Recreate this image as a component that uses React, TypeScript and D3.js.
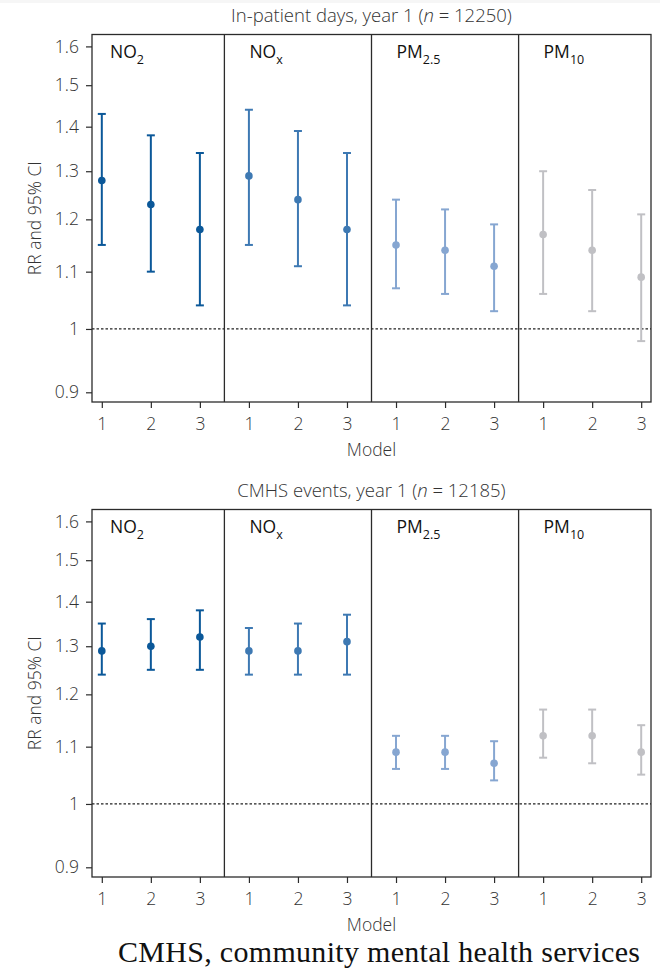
import { useEffect, useRef } from 'react'
import * as d3 from 'd3'

// pollutants and model numbers along the x axis
const pollutants = ['NO', 'NO', 'PM', 'PM']
const pollutantSubs = ['2', 'x', '2.5', '10']
const models = [1, 2, 3]
const colors = ['#0b5899', '#3e79b3', '#86a6d1', '#c0c0c4']

const yTicks = [0.9, 1, 1.1, 1.2, 1.3, 1.4, 1.5, 1.6]

// in-patient days, year 1 (RR, lower, upper), 3 models per pollutant
const inpatientRR = [1.28, 1.23, 1.18, 1.29, 1.24, 1.18, 1.15, 1.14, 1.11, 1.17, 1.14, 1.09]
const inpatientLo = [1.15, 1.10, 1.04, 1.15, 1.11, 1.04, 1.07, 1.06, 1.03, 1.06, 1.03, 0.98]
const inpatientHi = [1.43, 1.38, 1.34, 1.44, 1.39, 1.34, 1.24, 1.22, 1.19, 1.30, 1.26, 1.21]

// CMHS events, year 1
const cmhsRR = [1.29, 1.30, 1.32, 1.29, 1.29, 1.31, 1.09, 1.09, 1.07, 1.12, 1.12, 1.09]
const cmhsLo = [1.24, 1.25, 1.25, 1.24, 1.24, 1.24, 1.06, 1.06, 1.04, 1.08, 1.07, 1.05]
const cmhsHi = [1.35, 1.36, 1.38, 1.34, 1.35, 1.37, 1.12, 1.12, 1.11, 1.17, 1.17, 1.14]

const panels = [
  { title: 'In-patient days, year 1 (', n: '12250', rr: inpatientRR, lo: inpatientLo, hi: inpatientHi, top: 34.5 },
  { title: 'CMHS events, year 1 (', n: '12185', rr: cmhsRR, lo: cmhsLo, hi: cmhsHi, top: 509.5 }
]

const W = 660
const H = 968
const left = 92
const right = 651
const panelH = 367.5
const font = '"Open Sans", sans-serif'
const textColor = '#333'

const App = () => {
  const ref = useRef<SVGSVGElement>(null)

  useEffect(() => {
    const svg = d3.select(ref.current)
    svg.selectAll('*').remove()

    svg.append('rect').attr('width', W).attr('height', 3).attr('fill', '#f6f6f6')

    const x = d3.scaleLinear().domain([0.8, 12.2]).range([left, right])
    const positions = d3.range(1, 13)
    const dividers = [3.5, 6.5, 9.5]

    panels.forEach((p) => {
      const bottom = p.top + panelH
      const y = d3.scaleLog().domain([0.8856, 1.632]).range([bottom, p.top])
      const g = svg.append('g')

      // title
      const t = g
        .append('text')
        .attr('x', (left + right) / 2)
        .attr('y', p.top - 13)
        .attr('text-anchor', 'middle')
        .attr('font-family', font)
        .attr('font-weight', 300)
        .attr('font-size', 18.5)
        .attr('fill', textColor)
      t.append('tspan').text(p.title)
      t.append('tspan').attr('font-style', 'italic').text('n')
      t.append('tspan').text(` = ${p.n})`)

      // reference line at RR = 1
      g.append('line')
        .attr('x1', left)
        .attr('x2', right)
        .attr('y1', y(1))
        .attr('y2', y(1))
        .attr('stroke', '#222')
        .attr('stroke-width', 1.2)
        .attr('stroke-dasharray', '2.5,2')

      // panel dividers
      dividers.forEach((d) => {
        g.append('line')
          .attr('x1', x(d))
          .attr('x2', x(d))
          .attr('y1', p.top)
          .attr('y2', bottom)
          .attr('stroke', '#2b2b2b')
          .attr('stroke-width', 1.3)
      })

      // frame
      g.append('rect')
        .attr('x', left)
        .attr('y', p.top)
        .attr('width', right - left)
        .attr('height', panelH)
        .attr('fill', 'none')
        .attr('stroke', '#2b2b2b')
        .attr('stroke-width', 1.3)

      // y axis
      const ya = g
        .append('g')
        .attr('transform', `translate(${left},0)`)
        .call(
          d3
            .axisLeft(y)
            .tickValues(yTicks)
            .tickFormat((d) => String(d))
            .tickSize(6)
            .tickPadding(7)
        )
      ya.select('.domain').remove()
      ya.selectAll('line').attr('stroke', '#2b2b2b').attr('stroke-width', 1.2)
      ya.selectAll('text')
        .attr('font-family', font)
        .attr('font-weight', 300)
        .attr('font-size', 17.5)
        .attr('fill', textColor)

      // x axis
      const xa = g
        .append('g')
        .attr('transform', `translate(0,${bottom})`)
        .call(
          d3
            .axisBottom(x)
            .tickValues(positions)
            .tickFormat((d) => String(models[((d as number) - 1) % 3]))
            .tickSize(6)
            .tickPadding(10)
        )
      xa.select('.domain').remove()
      xa.selectAll('line').attr('stroke', '#2b2b2b').attr('stroke-width', 1.2)
      xa.selectAll('text')
        .attr('font-family', font)
        .attr('font-weight', 300)
        .attr('font-size', 17.5)
        .attr('fill', textColor)

      g.append('text')
        .attr('x', (left + right) / 2)
        .attr('y', bottom + 54)
        .attr('text-anchor', 'middle')
        .attr('font-family', font)
        .attr('font-weight', 300)
        .attr('font-size', 17.5)
        .attr('fill', textColor)
        .text('Model')

      g.append('text')
        .attr('transform', `translate(41,${(p.top + bottom) / 2}) rotate(-90)`)
        .attr('text-anchor', 'middle')
        .attr('font-family', font)
        .attr('font-weight', 300)
        .attr('font-size', 17.5)
        .attr('fill', textColor)
        .text('RR and 95% CI')

      // pollutant labels, placed from each panel's left edge
      pollutants.forEach((name, i) => {
        const x0 = i === 0 ? left + 18 : x(dividers[i - 1]) + 25
        const lt = g
          .append('text')
          .attr('x', x0)
          .attr('y', p.top + 23)
          .attr('font-family', font)
          .attr('font-size', 17.5)
          .attr('fill', '#111')
        lt.append('tspan').text(name)
        lt.append('tspan').attr('font-size', 12.5).attr('dy', 6).text(pollutantSubs[i])
      })

      // error bars
      const bars = g
        .selectAll('g.bar')
        .data(positions)
        .enter()
        .append('g')
        .attr('class', 'bar')
        .attr('stroke', (d) => colors[Math.floor((d - 1) / 3)])
        .attr('fill', (d) => colors[Math.floor((d - 1) / 3)])

      bars
        .append('line')
        .attr('x1', (d) => x(d))
        .attr('x2', (d) => x(d))
        .attr('y1', (d) => y(p.lo[d - 1]))
        .attr('y2', (d) => y(p.hi[d - 1]))
        .attr('stroke-width', 2)
      ;[p.lo, p.hi].forEach((vals) => {
        bars
          .append('line')
          .attr('x1', (d) => x(d) - 4)
          .attr('x2', (d) => x(d) + 4)
          .attr('y1', (d) => y(vals[d - 1]))
          .attr('y2', (d) => y(vals[d - 1]))
          .attr('stroke-width', 2)
      })
      bars
        .append('circle')
        .attr('cx', (d) => x(d))
        .attr('cy', (d) => y(p.rr[d - 1]))
        .attr('r', 3.8)
        .attr('stroke', 'none')
    })

    svg
      .append('text')
      .attr('x', 118)
      .attr('y', 962)
      .attr('font-family', '"Liberation Serif", serif')
      .attr('font-size', 30)
      .attr('fill', '#111')
      .attr('textLength', 522)
      .text('CMHS, community mental health services')
  }, [])

  return (
    <svg
      ref={ref}
      width={W}
      height={H}
      style={{ position: 'absolute', left: 0, top: 0, background: '#fff' }}
    />
  )
}

export default App
